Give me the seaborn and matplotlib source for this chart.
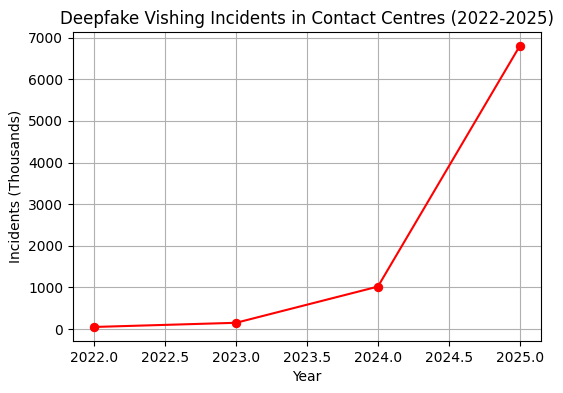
import matplotlib
matplotlib.use("Agg")
import matplotlib.pyplot as plt
import seaborn as sns
import pandas as pd

years = [2022, 2023, 2024, 2025]
incidents = [50, 150, 1020, 6800]

df = pd.DataFrame({"Year": years, "Incidents": incidents})

fig = plt.figure(figsize=(5.63, 3.93), dpi=100)
ax = fig.add_axes([73/563, 1-341/393, (541-73)/563, (341-32)/393])
sns.lineplot(data=df, x="Year", y="Incidents", color="red", marker="o",
             markersize=6, markeredgecolor="red", ax=ax)
ax.set_title("Deepfake Vishing Incidents in Contact Centres (2022-2025)")
ax.set_xlabel("Year")
ax.set_ylabel("Incidents (Thousands)")
ax.grid(True)
fig.savefig("out.png", dpi=100)
